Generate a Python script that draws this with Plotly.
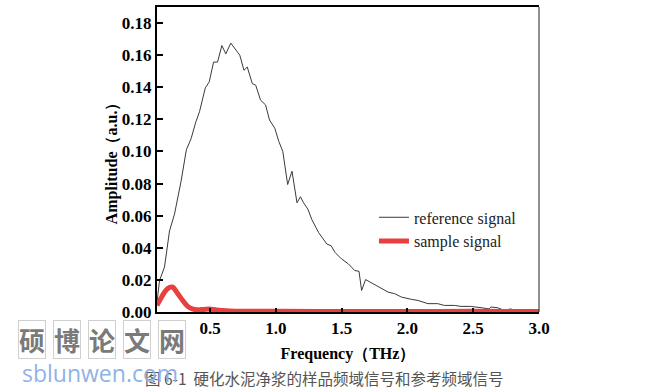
import plotly.graph_objects as go

ref_freq = [0.097, 0.116, 0.154, 0.192, 0.23, 0.28, 0.32, 0.356, 0.393, 0.42, 0.464, 0.494, 0.527, 0.557,
            0.59, 0.62, 0.658, 0.695, 0.726, 0.758, 0.783, 0.821, 0.847, 0.884, 0.922, 0.952, 0.992, 1.023,
            1.053, 1.09, 1.123, 1.161, 1.187, 1.211, 1.244, 1.274, 1.325, 1.388, 1.42, 1.45, 1.5, 1.551,
            1.6, 1.632, 1.652, 1.682, 1.74, 1.803, 1.853, 1.904, 1.954, 2.03, 2.08, 2.156, 2.23, 2.28,
            2.357, 2.407, 2.48, 2.56, 2.62, 2.634, 2.684, 2.735, 2.785, 2.835, 2.91, 2.97]
ref_amp = [0.006, 0.0196, 0.028, 0.0505, 0.061, 0.0815, 0.101, 0.108, 0.1186, 0.1248, 0.1396, 0.1434,
           0.1557, 0.1557, 0.166, 0.1608, 0.1675, 0.163, 0.160, 0.1506, 0.1526, 0.1423, 0.1413, 0.132,
           0.129, 0.1196, 0.1145, 0.1062, 0.1000, 0.0794, 0.0877, 0.068, 0.0718, 0.068, 0.064, 0.0575,
           0.0495, 0.0423, 0.0413, 0.0371, 0.033, 0.030, 0.0258, 0.0254, 0.0134, 0.0202, 0.0176, 0.0145,
           0.0124, 0.0114, 0.0093, 0.0079, 0.0072, 0.0052, 0.0052, 0.0041, 0.0041, 0.0035, 0.0035, 0.0027,
           0.0019, 0.0031, 0.0027, 0.001, 0.0019, 0.0006, 0.0004, 0.0004]

smp_freq = [0.097, 0.13, 0.16, 0.19, 0.217, 0.25, 0.29, 0.33, 0.37, 0.40, 0.45, 0.494, 0.55, 0.65,
            0.8, 1.0, 1.5, 2.0, 2.5, 3.0]
smp_amp = [0.0041, 0.009, 0.013, 0.0152, 0.0155, 0.012, 0.0075, 0.0035, 0.0018, 0.0014, 0.0016, 0.0019,
           0.0012, 0.0007, 0.0005, 0.0004, 0.0003, 0.0003, 0.0004, 0.0003]

x_ticks = [0.5, 1.0, 1.5, 2.0, 2.5, 3.0]
y_ticks = [0.00, 0.02, 0.04, 0.06, 0.08, 0.10, 0.12, 0.14, 0.16, 0.18]

serif = "Liberation Serif, Times New Roman, serif"

fig = go.Figure()
fig.add_trace(go.Scatter(x=ref_freq, y=ref_amp, mode="lines", name="reference signal",
                         line=dict(color="#3a3a3a", width=1)))
fig.add_trace(go.Scatter(x=smp_freq, y=smp_amp, mode="lines", name="sample signal",
                         line=dict(color="#e8403f", width=5), line_shape="spline"))

fig.update_layout(
    width=653, height=390,
    margin=dict(l=157, r=114, t=5, b=78),
    paper_bgcolor="white", plot_bgcolor="white",
    font=dict(family=serif, color="black"),
    showlegend=True,
    legend=dict(x=0.568, y=0.366, xanchor="left", yanchor="top",
                font=dict(family=serif, size=16, color="#222"),
                bgcolor="rgba(0,0,0,0)", tracegroupgap=0, itemwidth=30),
    xaxis=dict(range=[0.097, 3.0], tickvals=x_ticks, ticktext=["%.1f" % v for v in x_ticks],
               ticks="inside", ticklen=4, tickwidth=1.5, tickcolor="black",
               showline=True, linewidth=2, linecolor="black", mirror=True,
               showgrid=False, zeroline=False,
               tickfont=dict(family=serif, size=17, color="black", weight="bold"),
               title=dict(text="Frequency（THz）", standoff=10,
                          font=dict(family=serif, size=16, color="black", weight="bold"))),
    yaxis=dict(range=[0, 0.19], tickvals=y_ticks, ticktext=["%.2f" % v for v in y_ticks],
               ticks="inside", ticklen=6, tickwidth=2, tickcolor="black",
               showline=True, linewidth=2, linecolor="black",
               showgrid=False, zeroline=False,
               tickfont=dict(family=serif, size=17, color="black", weight="bold"),
               title=dict(text="Amplitude（a.u.）", standoff=0,
                          font=dict(family=serif, size=16, color="black", weight="bold"))),
)

# thin right border
fig.add_shape(type="line", xref="paper", yref="paper", x0=1, x1=1, y0=0, y1=1,
              line=dict(color="#222", width=1))

# caption
fig.add_annotation(text="图 6-1  硬化水泥净浆的样品频域信号和参考频域信号", xref="paper", yref="paper",
                   x=(324 - 157) / 382, y=(312 - 378) / 307, xanchor="center", yanchor="middle",
                   showarrow=False,
                   font=dict(family="Noto Sans CJK SC", size=15.5, color="#555"))

# watermark
wm = ["硕", "博", "论", "文", "网"]
for i, ch in enumerate(wm):
    fig.add_annotation(text=ch, xref="paper", yref="paper",
                       x=(32 + i * 35 - 157) / 382, y=(312 - 340) / 307,
                       xanchor="center", yanchor="middle", showarrow=False,
                       bordercolor="#d0d0d0", borderwidth=1, borderpad=0, bgcolor="rgba(255,255,255,0.6)",
                       font=dict(family="Noto Sans CJK SC", size=26, color="#7a7a7a", weight="bold"))
fig.add_annotation(text="sblunwen.com", xref="paper", yref="paper",
                   x=(100 - 157) / 382, y=(312 - 373) / 307, xanchor="center", yanchor="middle",
                   showarrow=False, font=dict(family="Open Sans", size=23, color="#8fb3e6"))

fig.write_html("out.html", config={"displayModeBar": False},
               post_script="document.body.style.margin='0';document.body.style.padding='0';")
